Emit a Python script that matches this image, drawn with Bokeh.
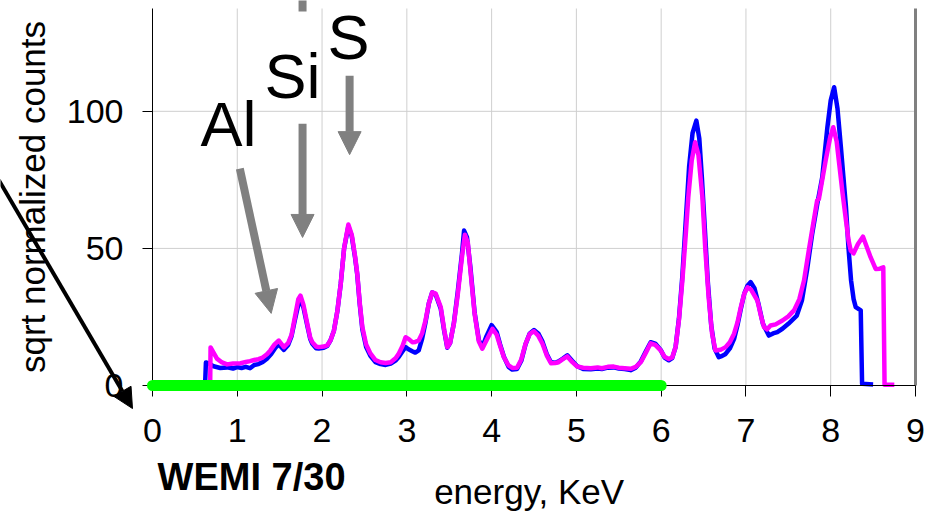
from bokeh.plotting import figure
from bokeh.models import Range1d, FixedTicker, Label, Arrow, NormalHead, LinearAxis
from bokeh.embed import file_html
from bokeh.resources import INLINE

# ---- data ----
mag_x = [0.68, 0.685, 0.72, 0.76, 0.82, 0.88, 0.95, 1.04, 1.10, 1.15, 1.20, 1.25, 1.30, 1.35, 1.39,
         1.44, 1.49, 1.55, 1.60, 1.64, 1.68, 1.72, 1.745, 1.78, 1.825, 1.86, 1.885, 1.93, 1.96, 2.02,
         2.06, 2.10, 2.14, 2.18, 2.22, 2.26, 2.31, 2.35, 2.39, 2.415, 2.445, 2.475, 2.52, 2.57, 2.63,
         2.69, 2.75, 2.81, 2.87, 2.906, 2.95, 2.985, 3.02, 3.064, 3.10, 3.14, 3.18, 3.22, 3.26, 3.30,
         3.34, 3.40, 3.44, 3.477, 3.51, 3.555, 3.60, 3.65, 3.685, 3.72, 3.75, 3.80, 3.85, 3.89, 3.94,
         4.01, 4.06, 4.10, 4.145, 4.20, 4.244, 4.30, 4.35, 4.40, 4.45, 4.50, 4.55, 4.60, 4.65, 4.70,
         4.75, 4.79, 4.84, 4.893, 4.95, 5.01, 5.08, 5.17, 5.25, 5.30, 5.37, 5.44, 5.50, 5.57, 5.64,
         5.70, 5.76, 5.82, 5.876, 5.93, 5.994, 6.04, 6.09, 6.13, 6.17, 6.21, 6.25, 6.29, 6.32, 6.36,
         6.40, 6.44, 6.486, 6.52, 6.56, 6.60, 6.64, 6.70, 6.76, 6.81, 6.86, 6.90, 6.94, 6.98, 7.02,
         7.06, 7.135, 7.18, 7.213, 7.25, 7.29, 7.35, 7.43, 7.50, 7.567, 7.63, 7.685, 7.74, 7.80, 7.84,
         7.86, 7.90, 7.94, 7.99, 8.03, 8.07, 8.10, 8.14, 8.18, 8.21, 8.236, 8.27, 8.32, 8.38, 8.42,
         8.47, 8.53, 8.58, 8.62, 8.635, 8.75]
mag_y = [0.0, 13.9, 12.0, 9.8, 8.4, 7.7, 8.0, 8.1, 8.6, 8.9, 9.3, 9.6, 10.2, 11.4, 12.8,
         15.0, 16.4, 14.0, 15.5, 18.5, 25.0, 31.5, 32.8, 29.5, 22.6, 17.5, 15.8, 14.2, 14.0, 14.2,
         14.6, 16.5, 20.0, 27.0, 37.0, 50.0, 58.7, 55.0, 47.0, 40.8, 30.0, 21.3, 15.0, 11.7, 9.3,
         8.5, 8.2, 8.5, 10.0, 11.7, 14.5, 17.6, 17.0, 15.8, 15.9, 16.4, 19.0, 23.7, 30.0, 34.0,
         33.5, 28.6, 20.5, 14.0, 15.5, 22.6, 33.0, 46.8, 55.0, 52.0, 42.0, 26.0, 16.0, 13.4, 16.5,
         20.7, 18.5, 14.5, 10.3, 7.3, 6.4, 6.5, 9.5, 15.2, 18.8, 19.8, 18.2, 15.2, 11.0, 8.1,
         8.2, 8.5, 9.6, 10.6, 8.6, 6.9, 6.5, 6.3, 6.6, 6.3, 6.8, 6.9, 6.5, 6.3, 6.1,
         6.8, 8.5, 12.0, 15.4, 14.8, 12.8, 10.5, 9.7, 10.2, 14.0, 24.0, 38.3, 55.0, 68.7, 82.0,
         88.7, 84.0, 68.7, 50.0, 32.2, 19.0, 12.8, 13.0, 14.0, 15.8, 18.9, 23.0, 28.6, 33.5, 35.8,
         35.0, 31.0, 25.0, 21.3, 20.5, 21.9, 22.3, 23.7, 25.2, 27.4, 31.5, 38.3, 49.0, 60.2, 67.5,
         68.0, 75.0, 82.0, 90.0, 94.2, 89.0, 80.9, 70.0, 60.2, 53.0, 49.2, 48.2, 51.5, 54.3, 51.0,
         46.8, 42.5, 42.6, 43.1, 0.3, 0.3]

blue_x = [0.62, 0.63, 0.68, 0.72, 0.80, 0.88, 0.95, 1.00, 1.05, 1.10, 1.15, 1.20, 1.25, 1.30, 1.35,
          1.40, 1.45, 1.49, 1.55, 1.60, 1.64, 1.68, 1.72, 1.75, 1.78, 1.825, 1.86, 1.885, 1.93, 1.96,
          2.02, 2.06, 2.10, 2.14, 2.18, 2.22, 2.26, 2.31, 2.35, 2.39, 2.415, 2.445, 2.475, 2.52, 2.57,
          2.63, 2.69, 2.75, 2.81, 2.87, 2.906, 2.95, 2.985, 3.02, 3.064, 3.10, 3.14, 3.18, 3.22, 3.26,
          3.30, 3.34, 3.40, 3.44, 3.477, 3.51, 3.555, 3.60, 3.65, 3.675, 3.71, 3.75, 3.80, 3.85, 3.89,
          3.94, 4.00, 4.06, 4.10, 4.145, 4.20, 4.244, 4.30, 4.35, 4.40, 4.45, 4.50, 4.55, 4.60, 4.65,
          4.70, 4.75, 4.79, 4.84, 4.893, 4.95, 5.01, 5.08, 5.17, 5.25, 5.30, 5.37, 5.44, 5.50, 5.57,
          5.64, 5.70, 5.76, 5.82, 5.876, 5.93, 5.994, 6.04, 6.09, 6.13, 6.17, 6.21, 6.25, 6.29, 6.33,
          6.37, 6.415, 6.45, 6.48, 6.51, 6.55, 6.59, 6.63, 6.68, 6.72, 6.76, 6.81, 6.86, 6.90, 6.94,
          6.98, 7.02, 7.056, 7.10, 7.15, 7.20, 7.27, 7.32, 7.37, 7.43, 7.50, 7.60, 7.66, 7.72, 7.78,
          7.84, 7.90, 7.96, 8.00, 8.04, 8.08, 8.12, 8.15, 8.18, 8.21, 8.24, 8.27, 8.295, 8.354, 8.37,
          8.50]
blue_y = [0.0, 8.4, 7.8, 7.0, 6.4, 6.6, 6.2, 6.7, 6.4, 6.8, 6.3, 7.5, 7.8, 8.6, 9.8,
          11.5, 13.8, 15.0, 13.0, 14.8, 18.0, 24.0, 29.5, 30.8, 28.5, 22.0, 17.0, 15.2, 13.6, 13.5,
          13.8, 14.4, 16.5, 20.0, 27.0, 37.0, 50.0, 58.0, 54.5, 46.5, 40.5, 29.5, 20.5, 14.0, 10.8,
          8.5, 7.8, 7.5, 8.0, 9.2, 10.5, 12.5, 14.0, 13.2, 12.5, 12.0, 12.8, 17.0, 23.0, 30.0,
          34.0, 33.2, 28.0, 20.0, 13.8, 15.5, 22.8, 34.0, 48.0, 56.5, 54.0, 43.0, 26.5, 16.5, 14.0,
          18.0, 22.0, 19.5, 15.0, 10.5, 6.8, 5.8, 6.0, 9.0, 15.0, 19.0, 20.2, 19.0, 16.0, 11.5,
          8.5, 8.3, 8.8, 9.8, 11.0, 9.0, 7.0, 6.0, 5.9, 6.2, 6.0, 6.5, 6.6, 6.2, 6.0,
          5.6, 6.5, 8.8, 12.5, 15.8, 15.3, 13.0, 10.2, 9.2, 10.0, 14.0, 24.5, 40.0, 60.0, 80.0,
          92.0, 96.6, 90.0, 76.0, 60.0, 38.0, 22.0, 13.5, 10.3, 10.8, 11.5, 13.5, 17.0, 22.0, 28.0,
          33.5, 36.5, 37.7, 35.5, 29.5, 22.5, 18.2, 19.0, 19.5, 20.7, 22.5, 25.5, 31.0, 42.0, 55.0,
          66.0, 76.0, 94.0, 104.0, 108.8, 101.0, 86.9, 76.0, 65.0, 50.0, 38.3, 31.5, 28.6, 27.4, 0.6,
          0.4]

green_x = [0.0, 6.0]
green_y = [0.0, 0.0]

x_ticks = [0, 1, 2, 3, 4, 5, 6, 7, 8, 9]
y_ticks = [0, 50, 100]
x_lim = (0, 9)
y_lim = (0, 137.5)

# element labels: (text, x, baseline y)
elem_text = ["Al", "Si", "S"]
elem_x = [0.566, 1.32, 2.065]
elem_y = [95.5, 113.0, 127.0]

# gray pointer arrows: start (x, y) -> end (x, y)
ptr_x0 = [1.03, 1.77, 2.325]
ptr_y0 = [79.1, 95.5, 113.0]
ptr_x1 = [1.40, 1.77, 2.325]
ptr_y1 = [26.3, 54.0, 84.2]

# gray bar cut by the top edge of the picture
bar_x = [1.77, 1.77]
bar_y = [136.4, 142.0]

# black pointer arrow on the left
blk_x0, blk_y0, blk_x1, blk_y1 = -2.03, 86.4, -0.236, -8.4

# sample name position
name_x, name_y = 0.06, -33.5

FONT = "Liberation Sans"
W, H = 938, 517
# pixel layout of the plotting area inside the picture
FL, FR, FT, FB = 152, 915, 8, 385
sx = (FR - FL) / (x_lim[1] - x_lim[0])
sy = (FB - FT) / (y_lim[1] - y_lim[0])
xr = Range1d(x_lim[0] - FL / sx, x_lim[1] + (W - FR) / sx)
yr = Range1d(y_lim[0] - (H - FB) / sy, y_lim[1] + FT / sy)

p = figure(width=W, height=H, x_range=xr, y_range=yr,
           output_backend="svg", toolbar_location=None,
           x_axis_type=None, y_axis_type=None,
           min_border_left=0, min_border_right=0, min_border_top=0, min_border_bottom=0)
p.outline_line_color = None
p.background_fill_color = "white"
p.border_fill_color = "white"
p.grid.visible = False

# grid lines limited to the plotting area
gx = x_ticks[1:-1]
p.segment(x0=gx, y0=[y_lim[0]] * len(gx), x1=gx, y1=[y_lim[1]] * len(gx),
          line_color="#cfcfcf", line_width=1)
gy = y_ticks[1:]
p.segment(x0=[x_lim[0]] * len(gy), y0=gy, x1=[x_lim[1]] * len(gy), y1=gy,
          line_color="#cfcfcf", line_width=1)
# right border
p.segment(x0=[x_lim[1]], y0=[y_lim[0]], x1=[x_lim[1]], y1=[y_lim[1]],
          line_color="#808080", line_width=3)

# axes fixed at the data origin
xaxis = LinearAxis(fixed_location=0, bounds=x_lim, ticker=FixedTicker(ticks=x_ticks))
yaxis = LinearAxis(fixed_location=0, bounds=y_lim, ticker=FixedTicker(ticks=y_ticks))
for ax in (xaxis, yaxis):
    ax.axis_line_color = "black"
    ax.axis_line_width = 1
    ax.major_tick_line_color = "black"
    ax.major_tick_in = 0
    ax.minor_tick_line_color = None
    ax.major_label_text_font = FONT
    ax.major_label_text_font_size = "34px"
    ax.major_label_text_color = "black"
    ax.axis_label_text_font = FONT
    ax.axis_label_text_font_style = "normal"
    ax.axis_label_text_color = "black"
xaxis.major_tick_out = 11
yaxis.major_tick_out = 10
xaxis.major_label_standoff = 22
yaxis.major_label_standoff = 19
xaxis.axis_label = "energy,  KeV"
yaxis.axis_label = "sqrt normalized counts"
xaxis.axis_label_text_font_size = "35px"
yaxis.axis_label_text_font_size = "35px"
xaxis.axis_label_standoff = 27
yaxis.axis_label_standoff = 12
p.add_layout(xaxis, "below")
p.add_layout(yaxis, "left")

# spectra
p.line(blue_x, blue_y, line_color="#0000ff", line_width=4.5, line_join="round")
p.line(mag_x, mag_y, line_color="#ff00ff", line_width=4.5, line_join="round")

# green band along the baseline
g = p.line(green_x, green_y, line_color="#00ff00", line_width=11, line_cap="round")
g.level = "overlay"

# element labels
for t, x, y in zip(elem_text, elem_x, elem_y):
    p.add_layout(Label(x=x, y=y, text=t, text_font=FONT, text_font_size="63px",
                       text_color="black", text_baseline="alphabetic", text_align="left"))

# gray pointer arrows
for x0, y0, x1, y1 in zip(ptr_x0, ptr_y0, ptr_x1, ptr_y1):
    p.add_layout(Arrow(x_start=x0, y_start=y0, x_end=x1, y_end=y1,
                       line_color="#808080", line_width=8,
                       end=NormalHead(size=23, fill_color="#808080", line_color="#808080", line_width=1)))

p.line(bar_x, bar_y, line_color="#808080", line_width=8)

# black pointer arrow
p.add_layout(Arrow(x_start=blk_x0, y_start=blk_y0, x_end=blk_x1, y_end=blk_y1,
                   line_color="black", line_width=4,
                   end=NormalHead(size=20, fill_color="black", line_color="black", line_width=1)))

# sample name
p.add_layout(Label(x=name_x, y=name_y, text="WEMI 7/30", text_font=FONT, text_font_size="38px",
                   text_font_style="bold", text_color="black",
                   text_baseline="alphabetic", text_align="left"))

open("out.html", "w").write(file_html(p, INLINE))
